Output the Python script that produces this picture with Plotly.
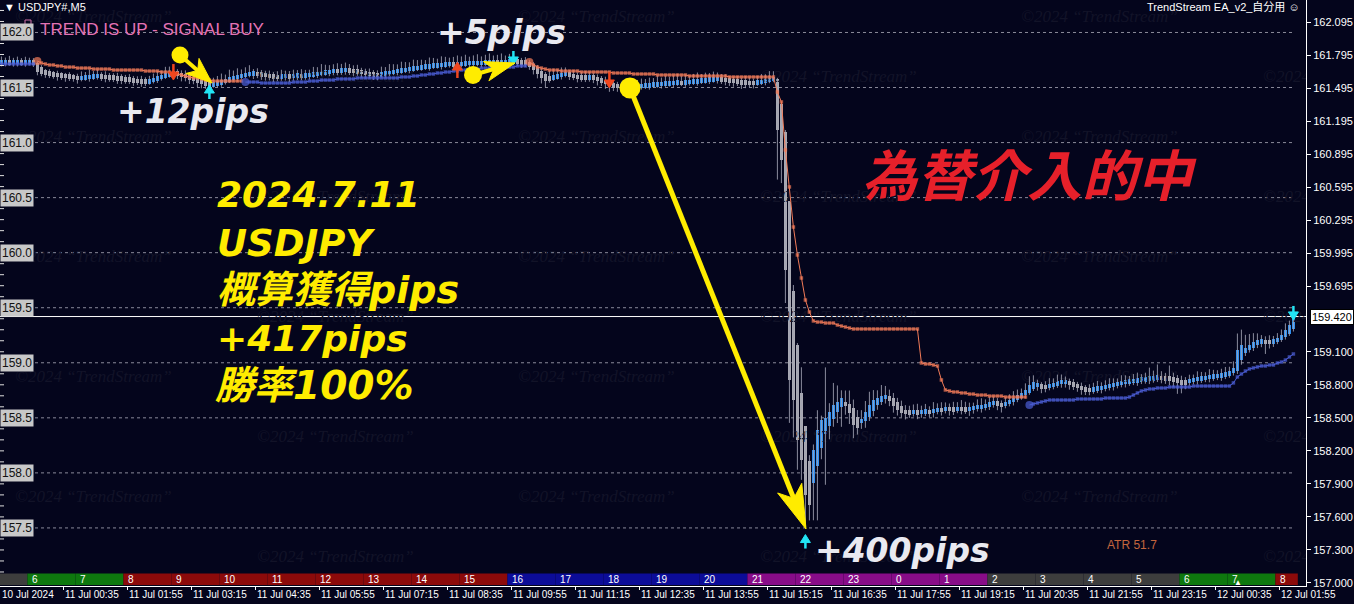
import plotly.graph_objects as go

# ---------------- data ----------------
# Heikin-Ashi close of each 5-minute bar (USDJPY, 10 Jul 23:15 -> 12 Jul 02:10)
close = [
    161.732, 161.732, 161.723, 161.732, 161.732, 161.723, 161.732, 161.732, 161.723,
    161.641,
    161.623, 161.623, 161.614, 161.614, 161.605, 161.605, 161.596, 161.596, 161.587, 161.578,
    161.587, 161.596, 161.596, 161.605, 161.605,
    161.596, 161.596, 161.587, 161.587, 161.578, 161.578, 161.568, 161.568, 161.559, 161.559, 161.550, 161.550,
    161.559, 161.578, 161.596, 161.605, 161.623, 161.632, 161.641,
    161.623, 161.605, 161.596, 161.578, 161.568, 161.550, 161.541, 161.523, 161.514,
    161.532, 161.541, 161.559, 161.568, 161.587, 161.596, 161.605, 161.614, 161.623, 161.632,
    161.632, 161.623, 161.614, 161.605, 161.596, 161.596,
    161.596, 161.605, 161.605, 161.596, 161.605, 161.614, 161.605, 161.614, 161.614,
    161.623, 161.632, 161.641, 161.641, 161.650,
    161.659, 161.650, 161.659, 161.659, 161.650, 161.650, 161.641,
    161.632, 161.623, 161.614, 161.614, 161.614,
    161.623, 161.632, 161.641, 161.650, 161.659, 161.659, 161.668, 161.677, 161.677, 161.686,
    161.686, 161.696, 161.696, 161.705, 161.705, 161.705, 161.714, 161.714, 161.705, 161.714,
    161.714, 161.723, 161.723, 161.723, 161.723, 161.723, 161.732, 161.732, 161.732, 161.723, 161.732, 161.732, 161.741, 161.741,
    161.732, 161.723, 161.723,
    161.696, 161.659, 161.623, 161.587, 161.559,
    161.578, 161.596, 161.614, 161.623, 161.632,
    161.614, 161.596, 161.587,
    161.587, 161.587, 161.596,
    161.587, 161.568, 161.550, 161.532, 161.514,
    161.505, 161.505, 161.496, 161.496,
    161.505, 161.505, 161.514, 161.514,
    161.523, 161.523, 161.532, 161.532, 161.532, 161.541, 161.541, 161.541, 161.550, 161.541, 161.550, 161.550, 161.559, 161.559, 161.568,
    161.568, 161.578, 161.578, 161.578, 161.568, 161.568, 161.559,
    161.550, 161.550, 161.541, 161.541, 161.541, 161.541,
    161.550, 161.559, 161.568, 161.578, 161.587,
    161.114, 160.842, 159.843, 158.844, 158.662, 158.299, 158.117, 157.799, 157.708,
    158.208, 158.389, 158.480, 158.498, 158.553, 158.617, 158.644, 158.680,
    158.617, 158.544, 158.435, 158.408,
    158.480, 158.553, 158.617, 158.662, 158.680, 158.698, 158.707,
    158.662, 158.607, 158.571, 158.544, 158.535,
    158.544, 158.553, 158.544, 158.553, 158.562, 158.553, 158.571, 158.580, 158.571, 158.589, 158.580,
    158.571, 158.589, 158.580, 158.571, 158.580, 158.598, 158.607, 158.598, 158.617, 158.635, 158.644,
    158.626, 158.607,
    158.635, 158.662, 158.680, 158.707, 158.726, 158.753, 158.798, 158.826,
    158.798, 158.771, 158.780,
    158.798, 158.807, 158.826, 158.835,
    158.826, 158.807, 158.789, 158.771, 158.753, 158.744, 158.753,
    158.762, 158.771, 158.780, 158.789, 158.798, 158.807, 158.817, 158.826, 158.835, 158.835, 158.844,
    158.844, 158.853, 158.853, 158.862, 158.862, 158.871,
    158.862, 158.853, 158.853, 158.844, 158.826, 158.807, 158.817,
    158.844, 158.853, 158.862, 158.862, 158.871, 158.880, 158.880, 158.889, 158.889, 158.898, 158.916, 158.953,
    159.116, 159.161, 159.134, 159.161, 159.189, 159.207,
    159.198, 159.189, 159.189, 159.198,
    159.225, 159.252, 159.298, 159.343, 159.420,
]

# upper / lower shadow length of each bar, in pips
wick_up_pips = [
    3, 2, 4, 2, 3, 2, 3, 2, 2,
    1,
    2, 1, 2, 1, 2, 1, 1, 2, 1, 2,
    4, 3, 5, 3, 4,
    2, 3, 2, 2, 3, 2, 2, 3, 2, 2, 3, 2,
    3, 4, 5, 4, 6, 5, 4,
    2, 2, 3, 2, 2, 2, 3, 2, 2,
    4, 5, 6, 4, 7, 5, 6, 4, 5, 6,
    2, 3, 2, 2, 3, 2,
    3, 4, 3, 3, 4, 3, 4, 3, 3,
    5, 4, 6, 5, 4,
    4, 5, 4, 5, 4, 3, 4,
    2, 2, 3, 2, 2,
    5, 4, 6, 5, 4, 6, 5, 4, 6, 5,
    5, 4, 6, 5, 4, 6, 5, 4, 5, 6,
    5, 6, 4, 5, 6, 4, 5, 6, 4, 5, 6, 4, 5, 6,
    2, 2, 3,
    2, 2, 2, 2, 2,
    5, 6, 4, 5, 4,
    2, 3, 2,
    3, 4, 3,
    2, 2, 2, 3, 2,
    3, 2, 3, 2,
    4, 3, 4, 5,
    4, 5, 4, 6, 4, 5, 4, 5, 6, 4, 5, 4, 5, 6, 4,
    5, 4, 5, 4, 3, 3, 2,
    2, 3, 2, 4, 3, 2,
    4, 5, 4, 6, 5,
    1, 0, 2, 0, 5, 2, 23, 0, 5,
    5, 18, 4, 46, 8, 20, 15, 7,
    10, 12, 8, 6,
    8, 10, 12, 9, 7, 10, 8,
    6, 5, 4, 5, 4,
    4, 5, 6, 4, 5, 3, 6, 4, 5, 4, 3, 5, 4, 6, 5, 4, 3, 5, 6, 4, 5, 4,
    3, 2,
    4, 5, 6, 5, 4, 6, 8, 6,
    3, 2, 3,
    5, 4, 6, 5,
    3, 2, 3, 2, 3, 2, 3,
    4, 5, 3, 4, 5, 4, 3, 5, 4, 3, 4, 5, 3, 4, 8, 5, 10,
    4, 3, 10, 4, 3, 4, 3,
    4, 3, 5, 4, 3, 5, 4, 3, 4, 5, 4, 6,
    15, 14, 12, 10, 8, 6,
    4, 3, 4, 3,
    4, 5, 6, 4, 3,
]
wick_dn_pips = [
    2, 2, 1, 2, 2, 1, 2, 1, 2,
    3,
    2, 3, 2, 2, 3, 2, 3, 2, 2, 3,
    1, 1, 2, 1, 1,
    2, 3, 2, 2, 3, 3, 2, 2, 3, 2, 3, 2,
    1, 1, 2, 1, 1, 1, 2,
    3, 4, 3, 4, 3, 4, 4, 3, 5,
    1, 1, 2, 1, 1, 1, 2, 1, 1, 1,
    3, 2, 3, 3, 2, 3,
    2, 2, 2, 3, 2, 2, 2, 2, 2,
    1, 2, 1, 1, 2,
    2, 2, 2, 2, 2, 3, 2,
    3, 3, 2, 3, 3,
    1, 2, 1, 1, 2, 1, 1, 2, 1, 1,
    1, 1, 2, 1, 1, 2, 1, 1, 2, 1,
    1, 1, 2, 1, 1, 2, 1, 1, 2, 1, 1, 2, 1, 1,
    2, 3, 2,
    3, 4, 4, 5, 6,
    2, 1, 1, 2, 1,
    3, 2, 3,
    2, 2, 2,
    3, 4, 3, 4, 5,
    3, 3, 2, 3,
    2, 1, 2, 1,
    1, 2, 1, 1, 2, 1, 1, 2, 1, 1, 2, 1, 1, 2, 1,
    1, 2, 1, 2, 2, 3, 3,
    3, 2, 4, 3, 2, 3,
    1, 1, 2, 1, 1,
    45, 21, 30, 39, 34, 27, 18, 29, 14,
    34, 49, 10, 46, 12, 7, 10, 18,
    8, 10, 12, 6,
    5, 6, 4, 5, 4, 3, 4,
    5, 6, 5, 4, 5,
    3, 2, 4, 3, 2, 3, 4, 2, 3, 2, 4, 3, 2, 3, 2, 4, 3, 2, 3, 2, 3, 2,
    4, 5,
    2, 2, 3, 2, 2, 3, 2, 2,
    3, 4, 3,
    2, 2, 2, 3,
    3, 4, 3, 3, 4, 3, 3,
    2, 2, 3, 2, 2, 3, 2, 2, 3, 2, 2, 3, 2, 2, 3, 2, 2,
    3, 3, 4, 5, 10, 8, 4,
    2, 2, 3, 2, 2, 3, 2, 2, 3, 2, 2, 2,
    3, 4, 3, 2, 3, 3,
    3, 9, 4, 3,
    2, 2, 2, 2, 2,
]

# trailing stop below price (blue) and above price (orange); None = not active
stop_up = (
    [161.714] * 9
    + [None] * 52
    + [161.550, 161.550, 161.550, 161.550, 161.541, 161.541, 161.541, 161.541, 161.541, 161.541,
       161.541, 161.541, 161.550, 161.550, 161.550, 161.550, 161.559, 161.559, 161.559,
       161.568, 161.568, 161.568, 161.568, 161.578, 161.578, 161.578, 161.578, 161.578, 161.587, 161.587, 161.587,
       161.587, 161.587, 161.587, 161.587, 161.587, 161.587, 161.587, 161.587, 161.596, 161.596, 161.596, 161.605, 161.605,
       161.614, 161.614, 161.623, 161.623, 161.632, 161.632, 161.641, 161.641,
       161.650, 161.650, 161.659, 161.659, 161.659, 161.668, 161.668, 161.677, 161.677, 161.677,
       161.686, 161.686, 161.686, 161.686, 161.686, 161.686, 161.696, 161.696, 161.696]
    + [None] * 125
    + [158.617,
       158.626, 158.635, 158.644, 158.653, 158.662, 158.662, 158.662,
       158.662, 158.662, 158.662, 158.662, 158.671, 158.671, 158.671, 158.671, 158.671, 158.671, 158.671,
       158.680, 158.680, 158.680, 158.680, 158.680, 158.680,
       158.689, 158.707, 158.726, 158.744, 158.753, 158.762,
       158.762, 158.771, 158.771, 158.771, 158.780, 158.780, 158.780, 158.780, 158.780, 158.780,
       158.789, 158.789, 158.789, 158.789, 158.789, 158.789, 158.789, 158.789, 158.789, 158.789,
       158.817,
       158.871, 158.898, 158.925, 158.944,
       158.953, 158.962, 158.971, 158.971, 158.980, 158.980,
       158.998, 159.007, 159.025, 159.053, 159.080]
)
stop_dn = (
    [None] * 9
    + [161.741, 161.723, 161.714, 161.705, 161.705, 161.696, 161.696, 161.686, 161.686, 161.686,
       161.677, 161.677, 161.677, 161.677, 161.668, 161.668, 161.668, 161.668, 161.668,
       161.659, 161.659, 161.659, 161.659, 161.659, 161.659, 161.659, 161.659,
       161.650, 161.650, 161.650, 161.650, 161.641, 161.641, 161.641, 161.632,
       161.623, 161.614, 161.605, 161.596, 161.587, 161.587, 161.578, 161.568, 161.568,
       161.559, 161.559, 161.559, 161.559, 161.559, 161.559, 161.559, 161.559]
    + [None] * 71
    + [161.732, 161.705, 161.686, 161.677, 161.668, 161.659,
       161.659, 161.659, 161.650, 161.650, 161.650, 161.650,
       161.650, 161.641, 161.641, 161.641, 161.641, 161.641, 161.641, 161.641, 161.641,
       161.632, 161.632, 161.632, 161.632, 161.632, 161.623, 161.623, 161.623, 161.623, 161.623, 161.623,
       161.614, 161.614, 161.614, 161.614, 161.614,
       161.614, 161.614, 161.614, 161.605, 161.605, 161.605, 161.605, 161.605, 161.605, 161.605, 161.605,
       161.605, 161.605, 161.596, 161.596, 161.596, 161.596, 161.596, 161.596, 161.596, 161.596, 161.596,
       161.596, 161.596, 161.596,
       161.459, 161.369, 160.933, 160.597, 160.233, 159.979, 159.770, 159.570, 159.461, 159.380,
       159.370, 159.370, 159.361, 159.361, 159.361,
       159.343, 159.334, 159.325, 159.316]
    + [159.307] * 17
    + [158.998, 158.989, 158.989, 158.980, 158.971,
       158.844, 158.753,
       158.744, 158.735, 158.735, 158.726, 158.726,
       158.716, 158.716, 158.707, 158.707, 158.707, 158.698, 158.698, 158.698, 158.698,
       158.689, 158.689, 158.689, 158.689, 158.689, 158.689]
    + [None] * 67
)

# entry / exit signal arrows
sig_bar = [43, 52, 114, 128, 152, 201, 323]
sig_tip = [161.568, 161.523, 161.732, 161.705, 161.496, 157.440, 159.389]
sig_dir = ["down", "up", "up", "down", "down", "up", "down"]
sig_kind = ["sell", "exit", "buy", "exit", "sell", "exit", "exit"]

# hand-drawn yellow markers: circle (bar, price) -> arrow tip (bar, price)
mark_from = [(44.65, 161.795), (117.9, 161.614), (157.15, 161.496)]
mark_to = [(52.65, 161.541), (128.4, 161.723), (201.15, 157.490)]

time_labels = ["10 Jul 2024", "11 Jul 00:35", "11 Jul 01:55", "11 Jul 03:15", "11 Jul 04:35",
               "11 Jul 05:55", "11 Jul 07:15", "11 Jul 08:35", "11 Jul 09:55", "11 Jul 11:15",
               "11 Jul 12:35", "11 Jul 13:55", "11 Jul 15:15", "11 Jul 16:35", "11 Jul 17:55",
               "11 Jul 19:15", "11 Jul 20:35", "11 Jul 21:55", "11 Jul 23:15", "12 Jul 00:35",
               "12 Jul 01:55"]
session_hours = [5, 6, 7, 8, 9, 10, 11, 12, 13, 14, 15, 16, 17, 18, 19, 20, 21, 22, 23,
                 0, 1, 2, 3, 4, 5, 6, 7, 8]
left_levels = [162.0, 161.5, 161.0, 160.5, 160.0, 159.5, 159.0, 158.5, 158.0, 157.5]
right_ticks = [162.095, 161.795, 161.495, 161.195, 160.895, 160.595, 160.295, 159.995, 159.695,
               159.100, 158.800, 158.500, 158.200, 157.900, 157.600, 157.300, 157.000]
last_price = 159.420
atr_value = 51.7

assert len(close) == len(wick_up_pips) == len(wick_dn_pips) == len(stop_up) == len(stop_dn), (
    len(close), len(wick_up_pips), len(wick_dn_pips), len(stop_up), len(stop_dn))

# ---------------- geometry / style ----------------
W_FIG, H_FIG = 1354, 604
PW, PH = 1306, 586            # plot area in px
XS, X0 = 4.0, -0.35           # px per bar, first visible bar index
YS, YTOP = 110.1, 162.295     # px per price unit, top price
BG = "#04051c"
BLUE, GRAY = "#2e8ef0", "#a9a9b2"
ORANGE, STOPBLUE = "#f27b58", "#4b5ed6"
YELLOW = "#ffec00"
SIGCOL = {"sell": "#f0461e", "buy": "#f0461e", "exit": "#22e4f4"}


def to_px(i, p):
    return ((i - X0) * XS, (YTOP - p) * YS)


def to_data(x, y):
    return (x / XS + X0, YTOP - y / YS)


n = len(close)
ha_open = [close[0]]
for i in range(1, n):
    ha_open.append((ha_open[-1] + close[i - 1]) / 2)

body_lo, body_hi, colors = [], [], []
for i in range(n):
    lo, hi = min(ha_open[i], close[i]), max(ha_open[i], close[i])
    if hi - lo < 0.04:
        m = (hi + lo) / 2
        lo, hi = m - 0.02, m + 0.02
    body_lo.append(lo)
    body_hi.append(hi)
    colors.append(BLUE if close[i] >= ha_open[i] else GRAY)

wx, wy = [], []
for i in range(n):
    wx += [i, i, None]
    wy += [body_lo[i] - wick_dn_pips[i] * 0.01, body_hi[i] + wick_up_pips[i] * 0.01, None]

fig = go.Figure()

# watermark grid (behind everything)
wm_x, wm_y = [], []
for r in range(10):
    cols = [15, 518, 1021] if r % 2 == 0 else [257, 760, 1263]
    for c in cols:
        a, b = to_data(c, 18 + 60 * r)
        wm_x.append(a)
        wm_y.append(b)
fig.add_trace(go.Scatter(x=wm_x, y=wm_y, mode="text", text=["©2024 “TrendStream”"] * len(wm_x),
                         textposition="middle right", hoverinfo="skip", showlegend=False,
                         cliponaxis=True,
                         textfont=dict(family="Liberation Serif", size=17, color="#121328",
                                       style="italic")))

fig.add_trace(go.Scatter(x=wx, y=wy, mode="lines", line=dict(color="#a4a5b4", width=1),
                         opacity=0.85, hoverinfo="skip", showlegend=False))
for col in (GRAY, BLUE):
    idx = [i for i in range(n) if colors[i] == col]
    fig.add_trace(go.Bar(x=idx, base=[body_lo[i] for i in idx],
                         y=[body_hi[i] - body_lo[i] for i in idx], width=0.8,
                         marker=dict(color=col, line=dict(width=0)), showlegend=False,
                         hoverinfo="skip"))

for series, col in ((stop_dn, ORANGE), (stop_up, STOPBLUE)):
    sizes, symbols = [], []
    for i in range(n):
        start = series[i] is not None and (i == 0 or series[i - 1] is None)
        sizes.append(8 if start and i > 0 else 3.5)
        symbols.append("circle" if start and i > 0 else "square")
    fig.add_trace(go.Scatter(x=list(range(n)), y=series, mode="lines+markers",
                             line=dict(color=col, width=1), connectgaps=False,
                             marker=dict(color=col, size=sizes, symbol=symbols, line=dict(width=0)),
                             hoverinfo="skip", showlegend=False))

shapes = []
annotations = []

# dashed grid at the left-label levels
for lv in left_levels:
    shapes.append(dict(type="line", xref="paper", yref="y", x0=35 / PW, x1=1293 / PW, y0=lv, y1=lv,
                       line=dict(color="#8a8a9a", width=1, dash="3px,3px"), layer="below"))
# minor ticks on the left edge
k = 1570
while k <= 1622:
    if k % 5 != 0:
        shapes.append(dict(type="line", xref="paper", yref="y", x0=0, x1=4 / PW, y0=k / 10, y1=k / 10,
                           line=dict(color="#e0e0e0", width=1)))
    k += 1
# current price line
shapes.append(dict(type="line", xref="paper", yref="y", x0=0, x1=1, y0=last_price, y1=last_price,
                   line=dict(color="#ffffff", width=1), layer="below"))
# small label icon before the status text
shapes.append(dict(type="rect", xref="paper", yref="paper", x0=25 / PW, x1=31 / PW,
                   y0=1 - 27 / PH, y1=1 - 20 / PH, line=dict(color="#d070a8", width=1)))

# session colour strip
def hour_color(h):
    if 2 <= h <= 5:
        return "#3d3d3d"
    if h in (6, 7):
        return "#0e780e"
    if 8 <= h <= 15:
        return "#8c0a0a"
    if 16 <= h <= 20:
        return "#0c0c98"
    return "#880c88"


for j, h in enumerate(session_hours):
    s = -5.5 + 12 * j
    e = min(s + 12, n + 0.1)
    x0p = max(0.0, (s - X0) * XS)
    x1p = (e - X0) * XS
    shapes.append(dict(type="rect", xref="paper", yref="paper", x0=x0p / PW, x1=x1p / PW,
                       y0=1 / PH, y1=12.5 / PH, fillcolor=hour_color(h), line=dict(width=0)))
    if s >= X0:
        annotations.append(dict(xref="paper", yref="paper", x=(x0p + 3) / PW, y=7 / PH, text=str(h),
                                showarrow=False, xanchor="left", yanchor="middle",
                                font=dict(family="Liberation Sans Narrow, Liberation Sans", size=10,
                                          color="#ffffff")))


def arrow(tail, tip, color, lw, L, W, N):
    tx, ty = to_px(*tail)
    hx, hy = to_px(*tip)
    dx, dy = hx - tx, hy - ty
    d = (dx * dx + dy * dy) ** 0.5
    ux, uy = dx / d, dy / d
    nx, ny = -uy, ux
    bx, by = hx - L * ux, hy - L * uy
    pts = [(hx, hy), (bx + W * nx, by + W * ny), (hx - (L - N) * ux, hy - (L - N) * uy),
           (bx - W * nx, by - W * ny)]
    sx, sy = to_data(hx - (L - N - 1) * ux, hy - (L - N - 1) * uy)
    shapes.append(dict(type="line", xref="x", yref="y", x0=tail[0], y0=tail[1], x1=sx, y1=sy,
                       line=dict(color=color, width=lw)))
    dp = [to_data(px, py) for px, py in pts]
    path = "M{},{} L{},{} L{},{} L{},{} Z".format(*[v for p in dp for v in p])
    shapes.append(dict(type="path", xref="x", yref="y", path=path, fillcolor=color,
                       line=dict(color=color, width=1)))


# signal arrows
for b, p, dr, kd in zip(sig_bar, sig_tip, sig_dir, sig_kind):
    hx, hy = to_px(b, p)
    ln = 16 if kd != "exit" else 14
    ty = hy + ln if dr == "up" else hy - ln
    arrow(to_data(hx, ty), (b, p), SIGCOL[kd], 2.5, 8, 5, 0)

# yellow hand-drawn markers
radii = [8.5, 9, 10.5]
heads = [(26, 10, 7, 4), (30, 10, 8, 4), (44, 13, 11, 5)]
for (a, b), tip, r, (L, W, N, lw) in zip(mark_from, mark_to, radii, heads):
    arrow((a, b), tip, YELLOW, lw, L, W, N)
    shapes.append(dict(type="circle", xref="x", yref="y", xsizemode="pixel", ysizemode="pixel",
                       xanchor=a, yanchor=b, x0=-r, x1=r, y0=-r, y1=r, fillcolor=YELLOW,
                       line=dict(width=0)))


def ptext(x, y, text, size, color, family="Liberation Sans", xanchor="left", weight="normal",
          style="normal", **kw):
    d = dict(xref="paper", yref="paper", x=x / PW, y=1 - y / PH, text=text, showarrow=False,
             xanchor=xanchor, yanchor="middle",
             font=dict(family=family, size=size, color=color, weight=weight, style=style))
    d.update(kw)
    annotations.append(d)


# left price labels
for lv in left_levels:
    annotations.append(dict(xref="paper", yref="y", x=0, y=lv, text=f"{lv:.1f}", showarrow=False,
                            xanchor="left", yanchor="middle", bgcolor="#c8c8c8", borderpad=1,
                            font=dict(family="Liberation Sans", size=12, color="#111111")))

# time labels
for kk, t in enumerate(time_labels):
    xi = max(X0, 16 * kk - 0.5)
    ptext((xi - X0) * XS, 595, t, 10, "#ffffff", "Liberation Sans Narrow, Liberation Sans")

# current price box on the axis
annotations.append(dict(xref="paper", yref="y", x=1, y=last_price, xshift=4, text=f"{last_price:.3f}",
                        showarrow=False, xanchor="left", yanchor="middle", bgcolor="#ffffff",
                        bordercolor="#000000", borderwidth=1, borderpad=1,
                        font=dict(family="Liberation Sans", size=11, color="#000000")))

WHITE_T = "#e9e9f0"
BI = dict(weight="bold", style="italic")
ptext(2, 7, "▼ USDJPY#,M5", 11, "#ffffff")
ptext(1302, 7, "TrendStream EA_v2_自分用 ☺", 11, "#ffffff",
      "Liberation Sans, DejaVu Sans, Noto Sans CJK JP", xanchor="right")
ptext(38, 30, "TREND IS UP - SIGNAL BUY", 17, "#e473b5")
ptext(115, 111, "+12pips", 33, WHITE_T, "DejaVu Sans", **BI)
ptext(435, 33, "+5pips", 33, WHITE_T, "DejaVu Sans", **BI)
ptext(813, 550, "+400pips", 33, WHITE_T, "DejaVu Sans", **BI)
CJK = "DejaVu Sans, Noto Sans CJK JP"
ptext(215, 195, "2024.7.11", 36, YELLOW, CJK, **BI)
ptext(215, 243, "USDJPY", 37, YELLOW, CJK, **BI)
ptext(215, 290, "概算獲得pips", 38, YELLOW, CJK, **BI)
ptext(215, 338, "+417pips", 36, YELLOW, CJK, **BI)
ptext(213, 385, "勝率100%", 39, YELLOW, CJK, **BI)
ptext(860, 172, "為替介入的中", 55, "#e6202a", "Noto Sans CJK JP", **BI)
ptext(1105, 545, f"ATR {atr_value}", 12, "#c4653e", "Liberation Sans Narrow, Liberation Sans")
ptext(1238, 582, "▲", 8, "#ffffff", xanchor="center")

fig.update_layout(
    width=W_FIG, height=H_FIG,
    margin=dict(l=0, r=W_FIG - PW, t=0, b=H_FIG - PH),
    paper_bgcolor=BG, plot_bgcolor=BG,
    barmode="overlay", bargap=0, showlegend=False,
    shapes=shapes, annotations=annotations,
    xaxis=dict(range=[X0, X0 + PW / XS], showgrid=False, zeroline=False, showline=True,
               linecolor="#ffffff", linewidth=1, ticks="outside", ticklen=3, tickcolor="#ffffff",
               tickvals=[16 * kk - 0.5 for kk in range(1, len(time_labels))], showticklabels=False,
               fixedrange=True),
    yaxis=dict(range=[YTOP - PH / YS, YTOP], side="right", showgrid=False, zeroline=False,
               showline=True, linecolor="#ffffff", linewidth=1, ticks="outside", ticklen=4,
               tickcolor="#ffffff", tickvals=right_ticks, ticktext=[f"{v:.3f}" for v in right_ticks],
               tickfont=dict(family="Liberation Sans", size=11, color="#ffffff"), fixedrange=True),
)

fig.write_html("out.html", config={"displayModeBar": False},
               post_script="document.body.style.margin='0px';")
